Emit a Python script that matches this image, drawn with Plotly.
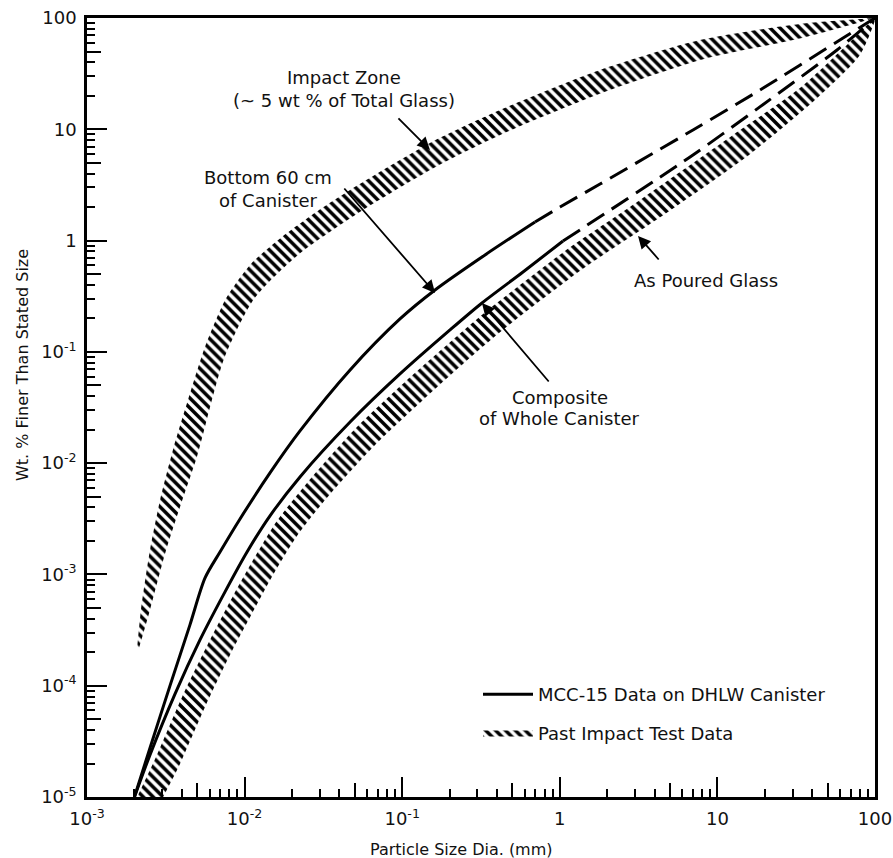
import numpy as np
import plotly.graph_objects as go

# ---------------- data ----------------
# Impact zone band (past impact test data): upper edge, then lower edge back to the tip
impact_upper_x = [0.00208, 0.00220, 0.00251, 0.00291, 0.00351, 0.00440, 0.00560, 0.00760, 0.01100, 0.01727, 0.0300, 0.0467, 0.150, 0.4175, 1.80, 7.76, 33.4, 100]
impact_upper_y = [2.19e-4, 4.80e-4, 1.66e-3, 4.67e-3, 0.0131, 0.0380, 0.110, 0.300, 0.620, 1.078, 1.90, 2.85, 7.53, 14.9, 34.1, 63.4, 88.3, 100]
impact_lower_x = [100, 34.4, 8.22, 1.993, 0.4761, 0.1763, 0.0564, 0.02182, 0.01147, 0.00740, 0.00500, 0.00395, 0.00315, 0.00250, 0.00214]
impact_lower_y = [100, 66.1, 42.9, 22.1, 9.66, 4.88, 1.884, 0.743, 0.2987, 0.0863, 0.01161, 4.30e-3, 1.59e-3, 4.70e-4, 2.19e-4]

# As poured glass band (past impact test data)
poured_upper_x = [0.00208, 0.00274, 0.00401, 0.00586, 0.00844, 0.01164, 0.01606, 0.02488, 0.0509, 0.1057, 0.2196, 0.3503, 1.144, 1.80, 3.23, 12.56, 33.4, 69.4, 100]
poured_upper_y = [1.0e-5, 2.29e-5, 7.93e-5, 2.38e-4, 6.41e-4, 1.44e-3, 3.03e-3, 6.64e-3, 0.0207, 0.0548, 0.1361, 0.2378, 0.859, 1.326, 2.32, 8.89, 23.5, 60.9, 100]
poured_lower_x = [100, 80.3, 41.6, 15.87, 4.08, 1.424, 0.4424, 0.2773, 0.1355, 0.0663, 0.03284, 0.0215, 0.01582, 0.01164, 0.00808, 0.00561, 0.003835, 0.00304]
poured_lower_y = [95.9, 46.5, 18.3, 5.88, 1.53, 0.567, 0.1607, 0.0918, 0.0370, 0.01428, 4.77e-3, 2.22e-3, 1.10e-3, 5.00e-4, 1.89e-4, 6.45e-5, 1.90e-5, 1.0e-5]

# MCC-15 data: bottom 60 cm of canister (solid = measured, dashed = extrapolated)
bottom_x = [0.0020, 0.00251, 0.00336, 0.00450, 0.00561, 0.00698, 0.00935, 0.01449, 0.02246, 0.0467, 0.0968, 0.1615, 0.3353, 0.696]
bottom_y = [1.0e-5, 2.76e-5, 9.96e-5, 3.52e-4, 9.30e-4, 1.59e-3, 3.15e-3, 8.17e-3, 0.01947, 0.0688, 0.1977, 0.360, 0.743, 1.47]
bottom_ext_x = [0.696, 1.003, 1.80, 7.00, 18.6, 62.7, 100]
bottom_ext_y = [1.47, 2.00, 3.22, 9.86, 22.5, 66.1, 100]

# MCC-15 data: composite of whole canister
whole_x = [0.0020, 0.00251, 0.00362, 0.00521, 0.00751, 0.01036, 0.01449, 0.02246, 0.0467, 0.0968, 0.2011, 0.3208, 0.584, 1.048]
whole_y = [1.0e-5, 2.39e-5, 8.44e-5, 2.58e-4, 6.97e-4, 1.59e-3, 3.36e-3, 7.52e-3, 0.0234, 0.0633, 0.1574, 0.275, 0.522, 0.991]
whole_ext_x = [1.048, 7.00, 18.6, 57.4, 100]
whole_ext_y = [0.991, 5.88, 15.9, 51.6, 100]

x_tick_vals = [1e-3, 1e-2, 1e-1, 1, 10, 100]
x_tick_text = ["10<sup>-3</sup>", "10<sup>-2</sup>", "10<sup>-1</sup>", "1", "10", "100"]
y_tick_vals = [1e-5, 1e-4, 1e-3, 1e-2, 1e-1, 1, 10, 100]
y_tick_text = ["10<sup>-5</sup>", "10<sup>-4</sup>", "10<sup>-3</sup>", "10<sup>-2</sup>", "10<sup>-1</sup>", "1", "10", "100"]
x_half_ticks = [5e-3, 5e-2, 5e-1, 5, 50]
y_half_ticks = [5e-5, 5e-4, 5e-3, 5e-2, 5e-1, 5, 50]

# ---------------- figure ----------------
FONT = "DejaVu Sans, Liberation Sans, Arial, sans-serif"
TXT = "#111"
hatch = dict(shape="\\", fgcolor="black", bgcolor="white", size=7, solidity=0.5, fgopacity=1)

fig = go.Figure()

fig.add_trace(go.Scatter(
    x=impact_upper_x + impact_lower_x, y=impact_upper_y + impact_lower_y,
    mode="lines", fill="toself", fillcolor="white", fillpattern=hatch,
    line=dict(width=0, color="black", shape="spline", smoothing=0.7),
    name="Past Impact Test Data", legendgroup="b", legendrank=2, showlegend=True,
    hoverinfo="skip"))
fig.add_trace(go.Scatter(
    x=poured_upper_x + poured_lower_x, y=poured_upper_y + poured_lower_y,
    mode="lines", fill="toself", fillcolor="white", fillpattern=hatch,
    line=dict(width=0, color="black", shape="spline", smoothing=0.7),
    name="Past Impact Test Data", legendgroup="b", showlegend=False,
    hoverinfo="skip"))

line_style = dict(color="black", width=3, shape="spline", smoothing=0.8)
dash_style = dict(color="black", width=3, dash="20px,9px", shape="spline", smoothing=0.8)

fig.add_trace(go.Scatter(x=bottom_x, y=bottom_y, mode="lines", line=line_style,
                         name="MCC-15 Data on DHLW Canister", legendgroup="a",
                         legendrank=1, showlegend=True, hoverinfo="skip"))
fig.add_trace(go.Scatter(x=bottom_ext_x, y=bottom_ext_y, mode="lines", line=dash_style,
                         showlegend=False, hoverinfo="skip"))
fig.add_trace(go.Scatter(x=whole_x, y=whole_y, mode="lines", line=line_style,
                         legendgroup="a", showlegend=False, hoverinfo="skip"))
fig.add_trace(go.Scatter(x=whole_ext_x, y=whole_ext_y, mode="lines", line=dash_style,
                         showlegend=False, hoverinfo="skip"))
# invisible trace so the overlay axes (longer ticks at the 5s) get drawn
fig.add_trace(go.Scatter(x=[1], y=[1], xaxis="x2", yaxis="y2", mode="markers",
                         marker=dict(opacity=0), showlegend=False, hoverinfo="skip"))

# plot-area geometry (pixels) used to place labels
L, R, T, B = 87, 875, 18, 797
W, H = 893, 858


def px(xp, yp):
    return (xp - L) / (R - L), (B - yp) / (B - T)


annos = []
labels = [
    ("Impact Zone", 344, 77),
    ("(~ 5 wt % of Total Glass)", 344, 100),
    ("Bottom 60 cm", 268, 177),
    ("of Canister", 268, 200),
    ("Composite", 560, 397),
    ("of Whole Canister", 559, 419),
    ("As Poured Glass", 706, 281),
]
for txt, xp, yp in labels:
    xx, yy = px(xp, yp)
    annos.append(dict(text=txt, x=xx, y=yy, xref="paper", yref="paper",
                      showarrow=False, font=dict(family=FONT, size=18, color=TXT),
                      xanchor="center", yanchor="middle"))

arrows = [  # tip (data values), tail offset (px)
    (0.150, 6.52, -33, -33),
    (0.1615, 0.338, -92, -106),
    (0.3208, 0.275, 68, 80),
    (3.135, 1.10, 22, 25),
]
for xv, yv, axp, ayp in arrows:
    annos.append(dict(x=np.log10(xv), y=np.log10(yv), xref="x", yref="y",
                      ax=axp, ay=ayp, showarrow=True, arrowhead=2, arrowsize=1.4,
                      arrowwidth=1.8, arrowcolor="black", text=""))

# axis titles
xx, yy = px(461, 849)
annos.append(dict(text="Particle Size Dia. (mm)", x=xx, y=yy, xref="paper", yref="paper",
                  xanchor="center", yanchor="middle",
                  showarrow=False, font=dict(family=FONT, size=16, color=TXT)))
xx, yy = px(22, 365)
annos.append(dict(text="Wt. % Finer Than Stated Size", x=xx, y=yy, xref="paper", yref="paper",
                  xanchor="center", yanchor="middle",
                  showarrow=False, textangle=-90, font=dict(family=FONT, size=16, color=TXT)))

axis_common = dict(
    type="log", showgrid=False, zeroline=False, showline=True, linecolor="black",
    linewidth=2.5, mirror=True, ticks="inside", ticklen=20, tickwidth=2, tickcolor="black",
    tickfont=dict(family=FONT, size=18, color=TXT), tickmode="array", automargin=False,
    minor=dict(ticks="inside", ticklen=8, tickwidth=1.5, tickcolor="black", dtick="D1", showgrid=False),
)
overlay_common = dict(
    type="log", showgrid=False, zeroline=False, showline=False, ticks="inside",
    ticklen=14, tickwidth=1.5, tickcolor="black", showticklabels=False,
    tickmode="array", automargin=False,
)

fig.update_layout(
    width=W, height=H,
    margin=dict(l=L, r=W - R, t=T, b=H - B),
    paper_bgcolor="white", plot_bgcolor="white",
    xaxis=dict(range=[-3, 2], tickvals=x_tick_vals, ticktext=x_tick_text,
               ticklabelstandoff=4, **axis_common),
    yaxis=dict(range=[-5, 2], tickvals=y_tick_vals, ticktext=y_tick_text,
               ticklabelstandoff=4, **axis_common),
    xaxis2=dict(range=[-3, 2], tickvals=x_half_ticks, overlaying="x", anchor="y2",
                side="bottom", **overlay_common),
    yaxis2=dict(range=[-5, 2], tickvals=y_half_ticks, overlaying="y", anchor="x2",
                side="left", **overlay_common),
    annotations=annos,
    showlegend=True,
    legend=dict(x=px(478, 0)[0], y=px(0, 676)[1], xanchor="left", yanchor="top",
                bgcolor="rgba(0,0,0,0)", font=dict(family=FONT, size=18, color=TXT),
                traceorder="grouped", tracegroupgap=12, itemwidth=50),
)

fig.write_html("out.html", config={"displayModeBar": False},
               post_script="document.body.style.margin='0px';")
